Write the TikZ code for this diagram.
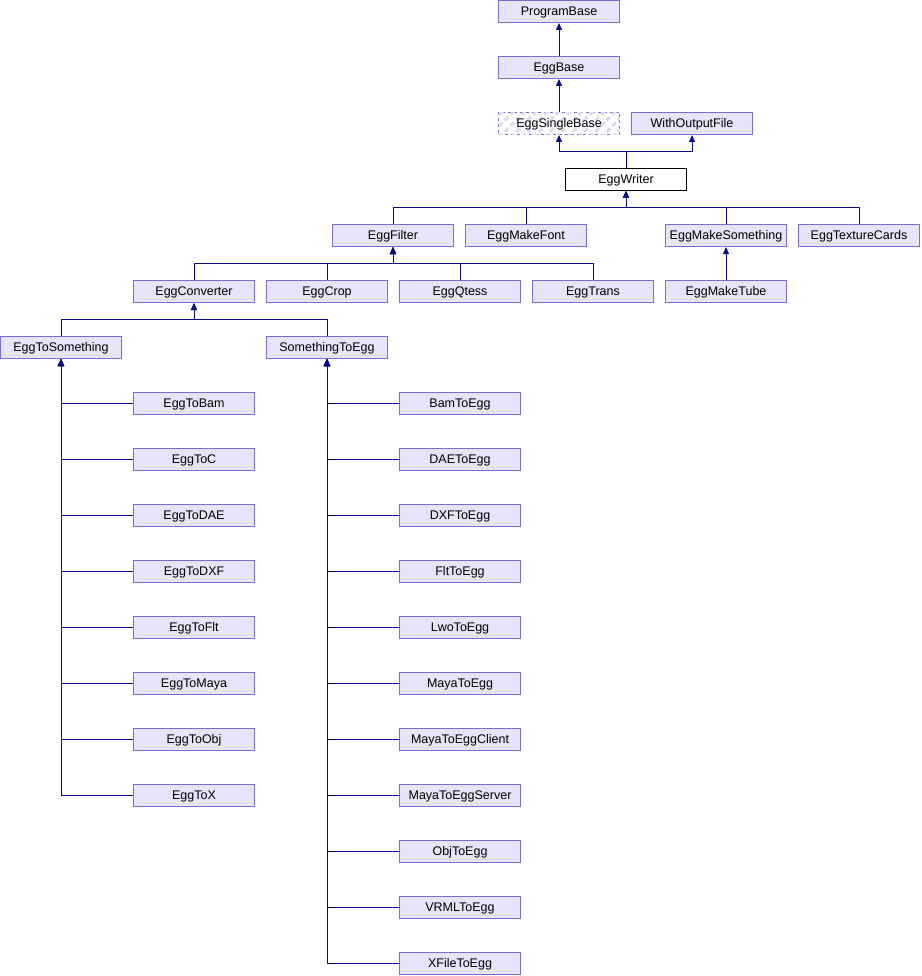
\documentclass[tikz,border=0pt]{standalone}
\usepackage{fontspec}
\setmainfont{Liberation Sans}
\usetikzlibrary{arrows.meta, positioning, calc, patterns.meta}
\definecolor{boxfill}{HTML}{E6E4F8}
\definecolor{boxline}{HTML}{7B6BE0}
\definecolor{linkline}{HTML}{0C0C8A}
\definecolor{hatch}{HTML}{DCDAF2}
\tikzstyle{cls} = [rectangle, draw=boxline, fill=boxfill, line width=1pt, minimum width=121pt, minimum height=22pt, inner sep=0pt, text height=10pt, text depth=2pt, font=\fontsize{12.5}{15}\selectfont]
\tikzstyle{arrow} = [draw=linkline, line width=1pt, ->, >={Triangle[width=6pt,length=7pt]}]

\begin{document}
\begin{tikzpicture}[x=1pt, y=-1pt]
        \useasboundingbox (0,0) rectangle (921,976);
        % 类继承关系图
        \node[cls] (programbase) at (559,11.5) {ProgramBase};
        \node[cls] (eggbase) at (559,67.5) {EggBase};
        \node[cls, fill=white, dashed, postaction={pattern={Lines[angle=45, distance=8pt, line width=3pt]}, pattern color=hatch}] (eggsinglebase) at (559,123.5) {EggSingleBase};
        \node[cls] (withoutputfile) at (692,123.5) {WithOutputFile};
        \node[cls, draw=black, fill=white] (eggwriter) at (626,179.5) {EggWriter};

        \node[cls] (eggfilter) at (393,235.5) {EggFilter};
        \node[cls] (eggmakefont) at (526,235.5) {EggMakeFont};
        \node[cls] (eggmakesomething) at (726,235.5) {EggMakeSomething};
        \node[cls] (eggtexturecards) at (859,235.5) {EggTextureCards};

        \node[cls] (eggconverter) at (194,291.5) {EggConverter};
        \node[cls] (eggcrop) at (327,291.5) {EggCrop};
        \node[cls] (eggqtess) at (460,291.5) {EggQtess};
        \node[cls] (eggtrans) at (593,291.5) {EggTrans};
        \node[cls] (eggmaketube) at (726,291.5) {EggMakeTube};

        \node[cls] (eggtosomething) at (61,347.5) {EggToSomething};
        \node[cls] (somethingtoegg) at (327,347.5) {SomethingToEgg};

        \node[cls] (eggtobam) at (194,403.5) {EggToBam};
        \node[cls] (eggtoc) at (194,459.5) {EggToC};
        \node[cls] (eggtodae) at (194,515.5) {EggToDAE};
        \node[cls] (eggtodxf) at (194,571.5) {EggToDXF};
        \node[cls] (eggtoflt) at (194,627.5) {EggToFlt};
        \node[cls] (eggtomaya) at (194,683.5) {EggToMaya};
        \node[cls] (eggtoobj) at (194,739.5) {EggToObj};
        \node[cls] (eggtox) at (194,795.5) {EggToX};

        \node[cls] (bamtoegg) at (460,403.5) {BamToEgg};
        \node[cls] (daetoegg) at (460,459.5) {DAEToEgg};
        \node[cls] (dxftoegg) at (460,515.5) {DXFToEgg};
        \node[cls] (flttoegg) at (460,571.5) {FltToEgg};
        \node[cls] (lwotoegg) at (460,627.5) {LwoToEgg};
        \node[cls] (mayatoegg) at (460,683.5) {MayaToEgg};
        \node[cls] (mayatoeggclient) at (460,739.5) {MayaToEggClient};
        \node[cls] (mayatoeggserver) at (460,795.5) {MayaToEggServer};
        \node[cls] (objtoegg) at (460,851.5) {ObjToEgg};
        \node[cls] (vrmltoegg) at (460,907.5) {VRMLToEgg};
        \node[cls] (xfiletoegg) at (460,963.5) {XFileToEgg};

        \draw[arrow] (eggbase) -- (programbase);
        \draw[arrow] (eggsinglebase) -- (eggbase);
        \draw[arrow] (eggwriter.north) |- ($(eggwriter.north)!0.5!(eggsinglebase.south)$) -| (eggsinglebase.south);
        \draw[arrow] (eggwriter.north) |- ($(eggwriter.north)!0.5!(withoutputfile.south)$) -| (withoutputfile.south);

        \draw[arrow] (eggfilter.north) |- ($(eggfilter.north)!0.5!(eggwriter.south)$) -| (eggwriter.south);
        \draw[arrow] (eggmakefont.north) |- ($(eggmakefont.north)!0.5!(eggwriter.south)$) -| (eggwriter.south);
        \draw[arrow] (eggmakesomething.north) |- ($(eggmakesomething.north)!0.5!(eggwriter.south)$) -| (eggwriter.south);
        \draw[arrow] (eggtexturecards.north) |- ($(eggtexturecards.north)!0.5!(eggwriter.south)$) -| (eggwriter.south);

        \draw[arrow] (eggconverter.north) |- ($(eggconverter.north)!0.5!(eggfilter.south)$) -| (eggfilter.south);
        \draw[arrow] (eggcrop.north) |- ($(eggcrop.north)!0.5!(eggfilter.south)$) -| (eggfilter.south);
        \draw[arrow] (eggqtess.north) |- ($(eggqtess.north)!0.5!(eggfilter.south)$) -| (eggfilter.south);
        \draw[arrow] (eggtrans.north) |- ($(eggtrans.north)!0.5!(eggfilter.south)$) -| (eggfilter.south);
        \draw[arrow] (eggmaketube) -- (eggmakesomething);

        \draw[arrow] (eggtosomething.north) |- ($(eggtosomething.north)!0.5!(eggconverter.south)$) -| (eggconverter.south);
        \draw[arrow] (somethingtoegg.north) |- ($(somethingtoegg.north)!0.5!(eggconverter.south)$) -| (eggconverter.south);

        \draw[arrow] (eggtobam.west) -| (eggtosomething.south);
        \draw[arrow] (eggtoc.west) -| (eggtosomething.south);
        \draw[arrow] (eggtodae.west) -| (eggtosomething.south);
        \draw[arrow] (eggtodxf.west) -| (eggtosomething.south);
        \draw[arrow] (eggtoflt.west) -| (eggtosomething.south);
        \draw[arrow] (eggtomaya.west) -| (eggtosomething.south);
        \draw[arrow] (eggtoobj.west) -| (eggtosomething.south);
        \draw[arrow] (eggtox.west) -| (eggtosomething.south);

        \draw[arrow] (bamtoegg.west) -| (somethingtoegg.south);
        \draw[arrow] (daetoegg.west) -| (somethingtoegg.south);
        \draw[arrow] (dxftoegg.west) -| (somethingtoegg.south);
        \draw[arrow] (flttoegg.west) -| (somethingtoegg.south);
        \draw[arrow] (lwotoegg.west) -| (somethingtoegg.south);
        \draw[arrow] (mayatoegg.west) -| (somethingtoegg.south);
        \draw[arrow] (mayatoeggclient.west) -| (somethingtoegg.south);
        \draw[arrow] (mayatoeggserver.west) -| (somethingtoegg.south);
        \draw[arrow] (objtoegg.west) -| (somethingtoegg.south);
        \draw[arrow] (vrmltoegg.west) -| (somethingtoegg.south);
        \draw[arrow] (xfiletoegg.west) -| (somethingtoegg.south);
\end{tikzpicture}
\end{document}
